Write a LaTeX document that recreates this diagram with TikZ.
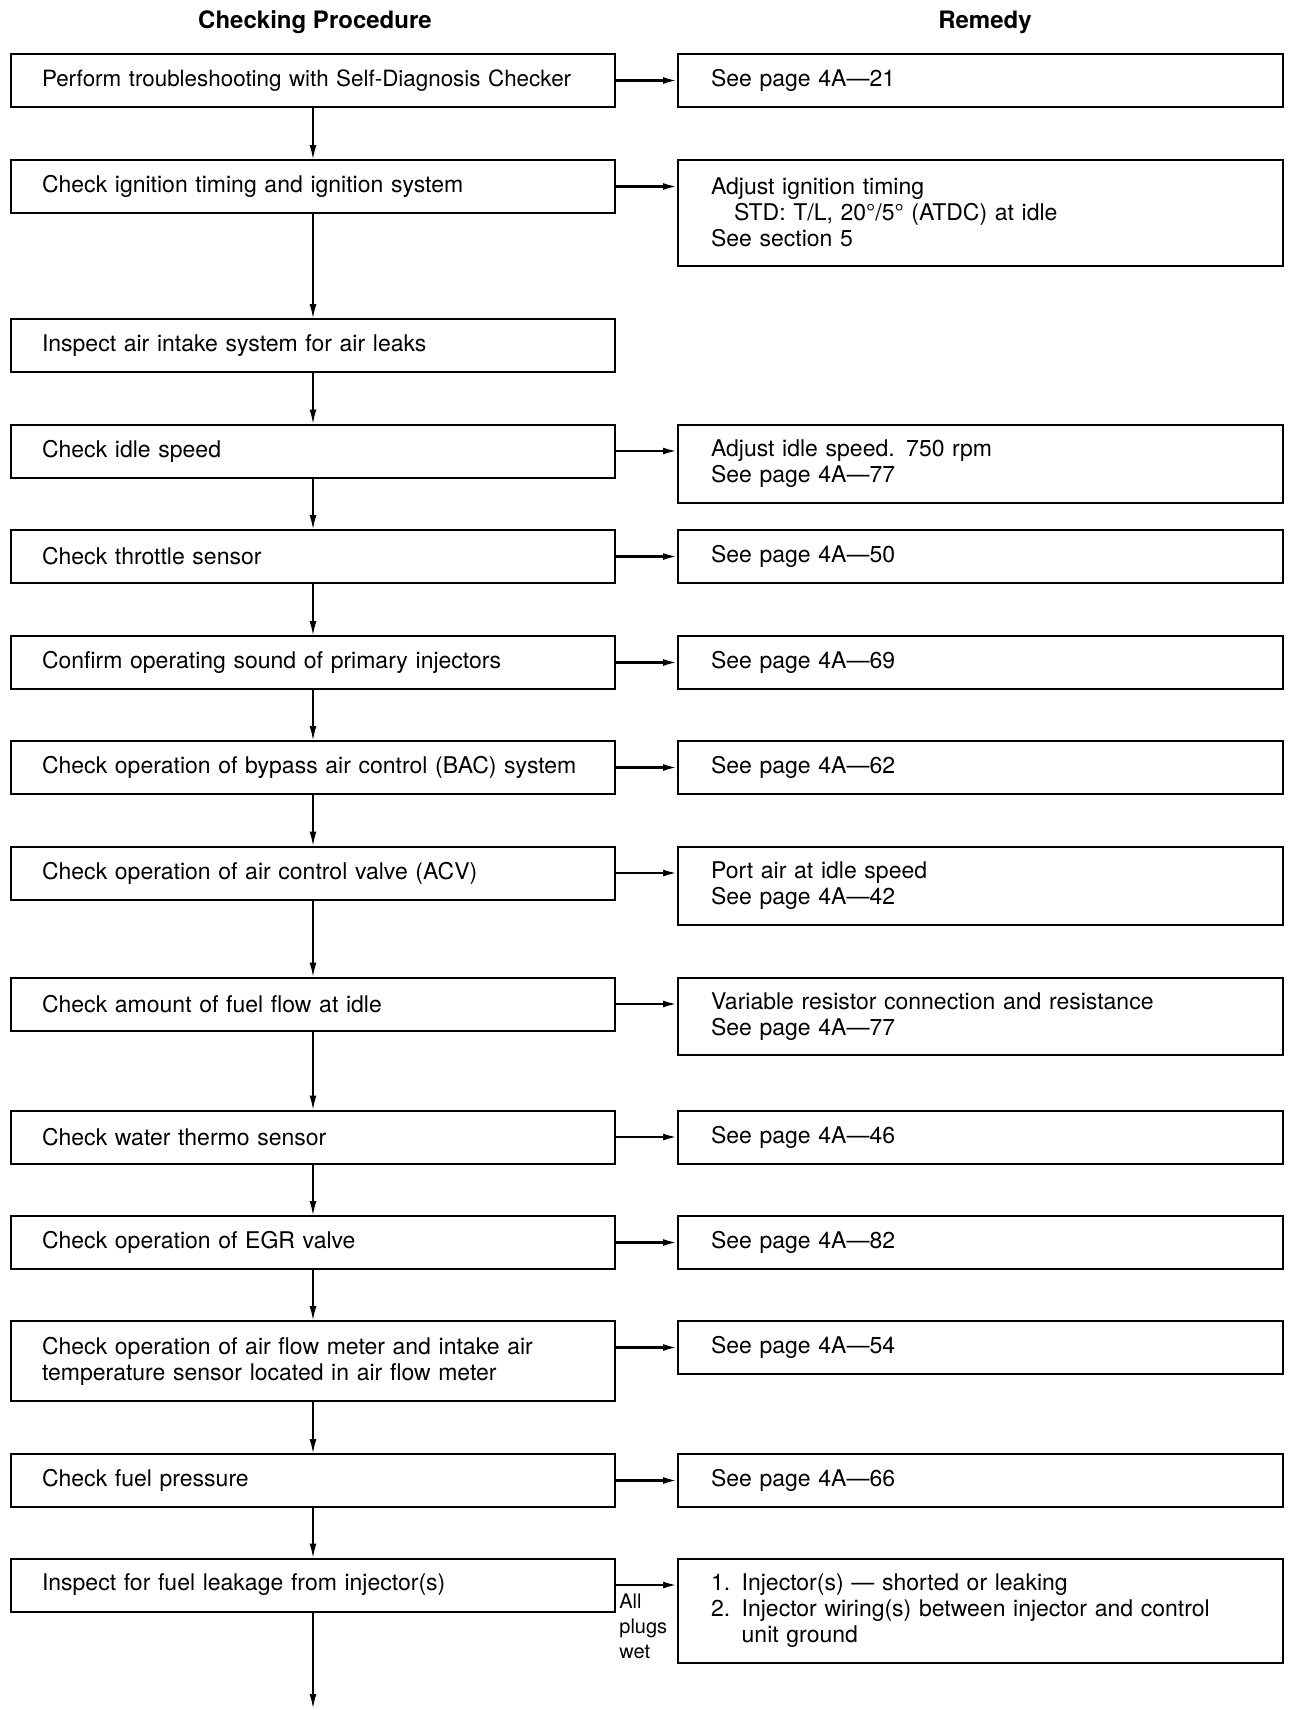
\documentclass[tikz,border=0pt]{standalone}
\usepackage{fontspec}
\setmainfont{TeX Gyre Heros}
\usetikzlibrary{arrows.meta,calc}
\begin{document}
\begin{tikzpicture}[x=0.5pt,y=-0.5pt,
 base/.style={draw, line width=1pt, inner xsep=0pt, inner ysep=0pt, align=left, font=\fontsize{11.5}{13}\selectfont},
 lbox/.style={base, minimum width=302pt, text width=271pt, minimum height=26.5pt},
 rbox/.style={base, minimum width=302.5pt, text width=269.5pt, minimum height=26.5pt},
 hdr/.style={font=\fontsize{12}{14}\selectfont\bfseries},
 varrow/.style={line width=0.6pt, -{Latex[length=7pt,width=3.5pt]}},
 harrow/.style={line width=1.1pt, -{Latex[length=7pt,width=3.5pt]}},
 note/.style={anchor=north west, inner sep=0pt, align=left, font=\fontsize{10}{12.5}\selectfont}
]
\useasboundingbox (0,0) rectangle (1290,1710);

\node[hdr] (h1) at (315,22) {Checking Procedure};
\node[hdr] (h2) at (985,22) {Remedy};

% left column
\node[lbox, font=\fontsize{11.2}{13}\selectfont] (l1) at (313,80.5) {Perform troubleshooting with Self-Diagnosis Checker};
\node[lbox] (l2) at (313,186.5) {Check ignition timing and ignition system};
\node[lbox] (l3) at (313,345.5) {Inspect air intake system for air leaks};
\node[lbox] (l4) at (313,451) {Check idle speed};
\node[lbox] (l5) at (313,556.5) {Check throttle sensor};
\node[lbox] (l6) at (313,662.5) {Confirm operating sound of primary injectors};
\node[lbox] (l7) at (313,767.5) {Check operation of bypass air control (BAC) system};
\node[lbox] (l8) at (313,873) {Check operation of air control valve (ACV)};
\node[lbox] (l9) at (313,1004) {Check amount of fuel flow at idle};
\node[lbox] (l10) at (313,1137) {Check water thermo sensor};
\node[lbox] (l11) at (313,1242.5) {Check operation of EGR valve};
\node[lbox, minimum height=40pt] (l12) at (313,1361) {Check operation of air flow meter and intake air\\temperature sensor located in air flow meter};
\node[lbox] (l13) at (313,1480.5) {Check fuel pressure};
\node[lbox] (l14) at (313,1585) {Inspect for fuel leakage from injector(s)};

% right column
\node[rbox] (r1) at (980.5,80.5) {See page 4A---21};
\node[rbox, minimum height=52.9pt] (r2) at (980.5,212.7) {Adjust ignition timing\\\hspace*{11.5pt}STD: T/L, 20°/5° (ATDC) at idle\\See section 5};
\node[rbox, minimum height=39.2pt] (r4) at (980.5,464) {Adjust idle speed. 750 rpm\\See page 4A---77};
\node[rbox] (r5) at (980.5,556.5) {See page 4A---50};
\node[rbox] (r6) at (980.5,662.5) {See page 4A---69};
\node[rbox] (r7) at (980.5,767.5) {See page 4A---62};
\node[rbox, minimum height=39.2pt] (r8) at (980.5,886) {Port air at idle speed\\See page 4A---42};
\node[rbox, minimum height=38.7pt] (r9) at (980.5,1016.5) {Variable resistor connection and resistance\\See page 4A---77};
\node[rbox] (r10) at (980.5,1137) {See page 4A---46};
\node[rbox] (r11) at (980.5,1242.5) {See page 4A---82};
\node[rbox] (r12) at (980.5,1347.5) {See page 4A---54};
\node[rbox] (r13) at (980.5,1480.5) {See page 4A---66};
\node[rbox, minimum height=51.9pt] (r14) at (980.5,1611) {1. Injector(s) --- shorted or leaking\\2. Injector wiring(s) between injector and control\\\hphantom{2. }unit ground};

% vertical flow
\foreach \a/\b in {l1/l2,l2/l3,l3/l4,l4/l5,l5/l6,l6/l7,l7/l8,l8/l9,l9/l10,l10/l11,l11/l12,l12/l13,l13/l14}
  \draw[varrow] (\a.south) -- (\b.north);
\coordinate (end) at (313,1708);
\draw[varrow] (l14.south) -- (end);

% horizontal arrows
\draw[harrow] (l1.east) -- (r1.west);
\draw[harrow] (l2.east) -- (l2.east -| r2.west);
\draw[harrow] (l4.east) -- (l4.east -| r4.west);
\draw[harrow] (l5.east) -- (r5.west);
\draw[harrow] (l6.east) -- (r6.west);
\draw[harrow] (l7.east) -- (r7.west);
\draw[harrow] (l8.east) -- (l8.east -| r8.west);
\draw[harrow] (l9.east) -- (l9.east -| r9.west);
\draw[harrow] (l10.east) -- (r10.west);
\draw[harrow] (l11.east) -- (r11.west);
\draw[harrow] (r12.west -| l12.east) -- (r12.west);
\draw[harrow] (l13.east) -- (r13.west);
\draw[harrow] (l14.east) -- (l14.east -| r14.west);

\node[note] (apw) at (619,1593) {All\\plugs\\wet};
\end{tikzpicture}
\end{document}
